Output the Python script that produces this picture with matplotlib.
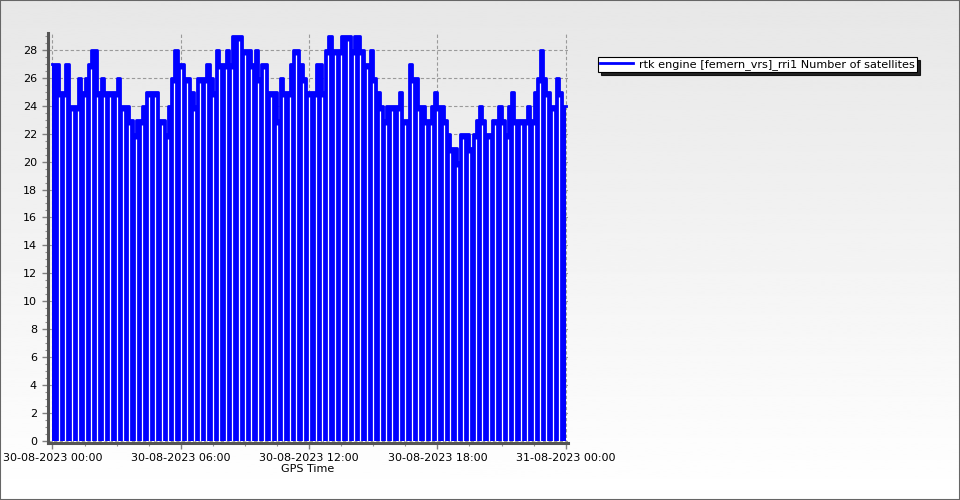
import numpy as np
import matplotlib
matplotlib.use('Agg')
import matplotlib.pyplot as plt
from matplotlib.ticker import MultipleLocator
from matplotlib.patches import Rectangle

# number of satellites, one value every 9 minutes over 24 hours
sats = [27, 27, 25, 25, 27, 24, 24, 24, 26, 25,
        26, 27, 28, 28, 25, 26, 25, 25, 25, 25,
        26, 24, 24, 24, 23, 22, 23, 23, 24, 25,
        25, 25, 25, 23, 23, 22, 24, 26, 28, 27,
        27, 26, 26, 25, 24, 26, 26, 26, 27, 26,
        25, 28, 27, 27, 28, 27, 29, 29, 29, 28,
        28, 28, 27, 28, 26, 27, 27, 25, 25, 25,
        23, 26, 25, 25, 27, 28, 28, 27, 26, 25,
        25, 25, 27, 27, 25, 28, 29, 28, 28, 28,
        29, 29, 29, 28, 29, 29, 28, 27, 27, 28,
        26, 25, 24, 23, 24, 24, 24, 24, 25, 23,
        23, 27, 26, 26, 24, 24, 23, 23, 24, 25,
        24, 24, 23, 22, 21, 21, 20, 22, 22, 22,
        21, 22, 23, 24, 23, 22, 22, 23, 23, 24,
        23, 22, 24, 25, 23, 23, 23, 23, 24, 23,
        25, 26, 28, 26, 25, 24, 24, 26, 25, 24]
step_hours = 0.15

tick_hours = [0, 6, 12, 18, 24]
tick_labels = ['30-08-2023 00:00', '30-08-2023 06:00', '30-08-2023 12:00',
               '30-08-2023 18:00', '31-08-2023 00:00']
series_name = 'rtk engine [femern_vrs]_rri1 Number of satellites'

BLUE = '#0000ff'

fig = plt.figure(figsize=(9.6, 5.0), dpi=100)

# background gradient (light grey at top to white at bottom)
bg = fig.add_axes([0, 0, 1, 1], zorder=-1)
grad = np.linspace(0.905, 1.0, 256).reshape(-1, 1)
bg.imshow(grad, aspect='auto', cmap='gray', vmin=0, vmax=1, extent=[0, 1, 0, 1], origin='upper')
bg.axis('off')

ax = fig.add_axes([0.05, 0.114, 0.5417, 0.82])
ax.set_facecolor('none')

t_edges = np.arange(len(sats) + 1) * step_hours
vals = np.array(sats + [sats[-1]])

ax.fill_between(t_edges, vals, step='post', color=BLUE, lw=0, zorder=2)
# white gaps where the count drops to zero
gap_t = t_edges[2:-1:2]
gap_top = np.minimum(np.array(sats)[1:-1:2], np.array(sats)[2::2]) - 0.4
ax.vlines(gap_t, 0, gap_top, color='white', lw=0.9, zorder=3)
ax.step(t_edges, vals, where='post', color=BLUE, lw=2, zorder=4, label=series_name)

ax.set_xlim(-0.21, 24.11)
ax.set_ylim(-0.14, 29.2)

ax.set_xticks(tick_hours)
ax.set_xticklabels(tick_labels)
ax.xaxis.set_minor_locator(MultipleLocator(1.5))
ax.yaxis.set_major_locator(MultipleLocator(2))
ax.yaxis.set_minor_locator(MultipleLocator(0.5))

ax.tick_params(which='major', direction='out', length=4, width=1, color='#808080',
               labelsize=8, pad=3)
ax.tick_params(axis='y', which='major', pad=4)
ax.tick_params(which='minor', direction='out', length=2, width=0.8, color='#909090')

ax.grid(True, which='major', color='#9a9a9a', ls=(0, (3, 2)), lw=0.8)
ax.set_axisbelow(True)

for side in ['top', 'right']:
    ax.spines[side].set_visible(False)
for side in ['left', 'bottom']:
    ax.spines[side].set_color('#555555')
    ax.spines[side].set_linewidth(2.2)

ax.set_xlabel('GPS Time', fontsize=8, labelpad=1)

leg = ax.legend(loc='upper left', bbox_to_anchor=(598 / 960, 1 - 57 / 500),
                bbox_transform=fig.transFigure, fontsize=8.1, frameon=True,
                fancybox=False, edgecolor='black', framealpha=1, borderpad=0.2,
                handlelength=2.9, handletextpad=0.55, borderaxespad=0,
                shadow={'ox': 2.0, 'oy': -2.0, 'color': 'black', 'alpha': 0.85})
leg.get_frame().set_linewidth(0.8)

# outer border of the picture
fig.patches.append(Rectangle((0, 0), 1, 1, transform=fig.transFigure, fill=False,
                             edgecolor='#666666', lw=1.5))

fig.savefig('out.png', dpi=100)
